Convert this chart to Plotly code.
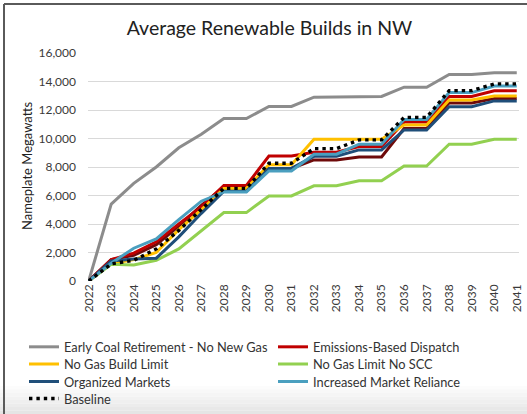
import plotly.graph_objects as go

years = list(range(2022, 2042))
year_labels = [str(y) for y in years]

early_coal = [0, 5400, 6850, 8000, 9350, 10300, 11400, 11400, 12250, 12250,
              12900, 12900, 12950, 12950, 13600, 13600, 14500, 14500, 14620, 14620]
emissions_dispatch = [0, 1500, 1950, 2750, 4000, 5200, 6700, 6700, 8770, 8770,
                      9030, 9030, 9430, 9430, 11150, 11150, 12950, 12950, 13350, 13350]
no_gas_build_limit = [0, 1200, 1500, 2000, 3600, 5000, 6500, 6500, 8150, 8150,
                      9950, 9950, 9950, 9950, 10950, 10950, 12700, 12700, 12980, 12980]
no_gas_limit_no_scc = [0, 1180, 1120, 1450, 2250, 3500, 4800, 4800, 5970, 5970,
                       6680, 6680, 7030, 7030, 8070, 8070, 9600, 9600, 9950, 9950]
organized_markets = [0, 1400, 1550, 1600, 3100, 4750, 6300, 6300, 7900, 7900,
                     8750, 8750, 9200, 9200, 10600, 10600, 12230, 12230, 12640, 12640]
increased_market = [0, 1250, 2300, 2950, 4300, 5600, 6250, 6250, 7720, 7720,
                    8900, 8900, 9600, 9600, 11340, 11340, 13220, 13220, 13680, 13680]
baseline = [0, 1200, 1450, 2250, 3550, 5000, 6500, 6500, 8260, 8260,
            9290, 9290, 9900, 9900, 11480, 11480, 13360, 13360, 13830, 13830]
unlabeled_dark_red = [0, 1500, 1800, 2550, 3850, 5300, 6600, 6600, 7900, 7900,
                      8500, 8500, 8700, 8700, 10700, 10700, 12500, 12500, 12800, 12800]

y_ticks = [0, 2000, 4000, 6000, 8000, 10000, 12000, 14000, 16000]
y_tick_text = ["0", "2,000", "4,000", "6,000", "8,000", "10,000", "12,000", "14,000", "16,000"]

FONT = "Lato"
W, H = 527, 414
L, R, T, B = 88, 8, 53, 133

fig = go.Figure()

fig.add_trace(go.Scatter(x=years, y=unlabeled_dark_red, mode="lines",
                         line=dict(color="#6E0A0A", width=3), showlegend=False,
                         name="Other"))

# (name, values, colour, legend column, legend row)
series = [
    ("Early Coal Retirement - No New Gas", early_coal, "#8C8C8C", 0, 0),
    ("Emissions-Based Dispatch", emissions_dispatch, "#C00000", 1, 0),
    ("No Gas Build Limit", no_gas_build_limit, "#FFC000", 0, 1),
    ("No Gas Limit No SCC", no_gas_limit_no_scc, "#92D050", 1, 1),
    ("Organized Markets", organized_markets, "#1F4E79", 0, 2),
    ("Increased Market Reliance", increased_market, "#4A9FBF", 1, 2),
]
row_y = [347, 364.3, 381.7, 398.7]
col_x = [24, 273]

legend_common = dict(orientation="h", xref="container", yref="container",
                     xanchor="left", yanchor="middle",
                     font=dict(family=FONT, size=12.8, color="#333333"),
                     tracegroupgap=0, itemwidth=30, bgcolor="rgba(0,0,0,0)")
legends = {}
for i, (name, vals, col, c, r) in enumerate(series):
    lg = "legend" if i == 0 else f"legend{i + 1}"
    legends[lg] = dict(x=col_x[c] / W, y=1 - row_y[r] / H, **legend_common)
    fig.add_trace(go.Scatter(x=years, y=vals, mode="lines", name=name,
                             legend=lg, line=dict(color=col, width=3)))

legends["legend7"] = dict(x=col_x[0] / W, y=1 - row_y[3] / H, **legend_common)
fig.add_trace(go.Scatter(x=years, y=baseline, mode="lines", name="Baseline",
                         legend="legend7",
                         line=dict(color="#000000", width=3.4, dash="3.4px,4px")))

pw, ph = W - L - R, H - T - B


def px_x(px):
    return (px - L) / pw


def px_y(py):
    return (H - B - py) / ph


shapes = []
n_bands = 8
band_top = 386
for i in range(n_bands):
    y0 = band_top + i * (H - band_top) / n_bands
    y1 = band_top + (i + 1) * (H - band_top) / n_bands
    g = int(252 - i * 3.2)
    shapes.append(dict(type="rect", xref="x domain", yref="y domain",
                       x0=px_x(0), x1=px_x(W), y0=px_y(y1), y1=px_y(y0),
                       fillcolor=f"rgb({g},{g},{g})", line=dict(width=0),
                       layer="below"))
shapes.append(dict(type="line", xref="x domain", yref="y domain",
                   x0=px_x(4), x1=px_x(4), y0=px_y(H), y1=px_y(4),
                   line=dict(color="#5A5A5A", width=2)))
shapes.append(dict(type="line", xref="x domain", yref="y domain",
                   x0=px_x(4), x1=px_x(W), y0=px_y(4), y1=px_y(4),
                   line=dict(color="#5A5A5A", width=2)))

fig.update_layout(
    width=W, height=H,
    margin=dict(l=L, r=R, t=T, b=B),
    paper_bgcolor="white", plot_bgcolor="white",
    font=dict(family=FONT, size=12, color="#3A3A3A"),
    title=dict(text="Average Renewable Builds in NW", xref="container",
               x=269.5 / W, xanchor="center",
               y=1 - 28 / H, yanchor="middle",
               font=dict(family=FONT, size=19.5, color="#222222")),
    xaxis=dict(range=[2021.97, 2041.1], tickvals=years, ticktext=year_labels,
               tickangle=-90, showgrid=False, zeroline=False, showline=False,
               ticks="", automargin=False,
               tickfont=dict(size=12, color="#3A3A3A")),
    yaxis=dict(range=[0, 16000], tickvals=y_ticks, ticktext=y_tick_text,
               showgrid=True, gridcolor="#D9D9D9", gridwidth=1, zeroline=False,
               showline=False, ticks="", ticklabelstandoff=11, automargin=False,
               tickfont=dict(size=12, color="#3A3A3A")),
    annotations=[dict(text="Nameplate Megawatts", xref="paper", yref="paper",
                      x=px_x(27), y=px_y(166), xanchor="center", yanchor="middle",
                      textangle=-90, showarrow=False,
                      font=dict(family=FONT, size=13, color="#222222"))],
    shapes=shapes,
    showlegend=True,
    **legends,
)

fig.write_html("out.html", config={"displayModeBar": False},
               post_script="document.body.style.margin='0';")
